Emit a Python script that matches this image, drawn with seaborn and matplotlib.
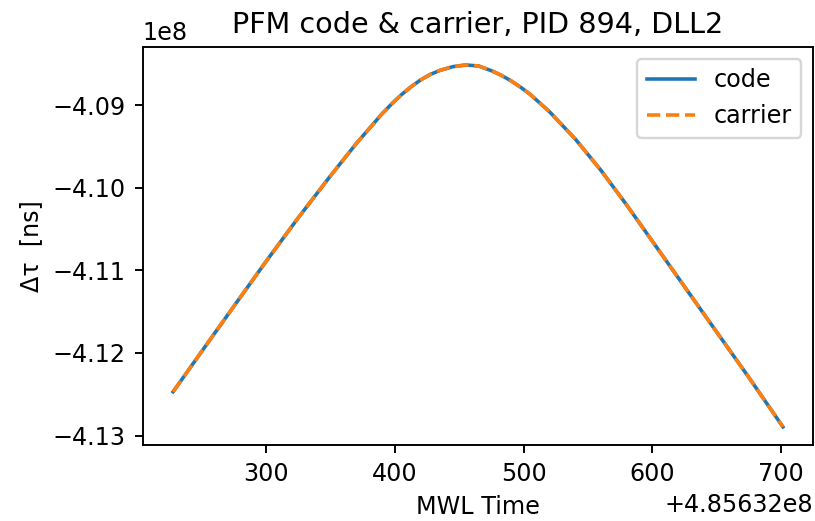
import numpy as np
import pandas as pd
import matplotlib
matplotlib.use("Agg")
import matplotlib.pyplot as plt
import seaborn as sns

# MWL time = offset + seconds; delay values (units of 1e8 ns)
time_offset = 485632000
time_sec = [227.5, 250, 275, 300, 325, 350, 370, 390, 397.5, 405, 412.5,
            420, 427.5, 435, 445, 455, 465, 475, 482.5, 490, 497.5, 505,
            520, 540, 560, 580, 600, 625, 650, 675, 701.5]
delay_e8 = [-4.12470, -4.11975, -4.11428, -4.10885, -4.10357, -4.09850,
            -4.09460, -4.09100, -4.08980, -4.08870, -4.08774, -4.08690,
            -4.08624, -4.08575, -4.08530, -4.08510, -4.08522, -4.08580,
            -4.08634, -4.08700, -4.08778, -4.08865, -4.09075, -4.09405,
            -4.09785, -4.10205, -4.10645, -4.11195, -4.11745, -4.12295,
            -4.12895]

t = time_offset + np.array(time_sec)
code = np.array(delay_e8) * 1e8
carrier = np.array(delay_e8) * 1e8

df = pd.DataFrame({"t": t, "code": code, "carrier": carrier})

DPI = 172
fig = plt.figure(figsize=(815 / DPI, 521 / DPI), dpi=DPI)
ax = fig.add_axes([0.175, 0.146, 0.823, 0.764])

sns.lineplot(data=df, x="t", y="code", ax=ax, color="tab:blue", label="code")
sns.lineplot(data=df, x="t", y="carrier", ax=ax, color="tab:orange",
             linestyle="--", label="carrier")

ax.set_title("PFM code & carrier, PID 894, DLL2", fontsize=12)
ax.set_xlabel("MWL Time")
ax.set_ylabel("Δτ  [ns]")
ax.legend(loc="upper right")

fig.savefig("out.png", dpi=DPI)
